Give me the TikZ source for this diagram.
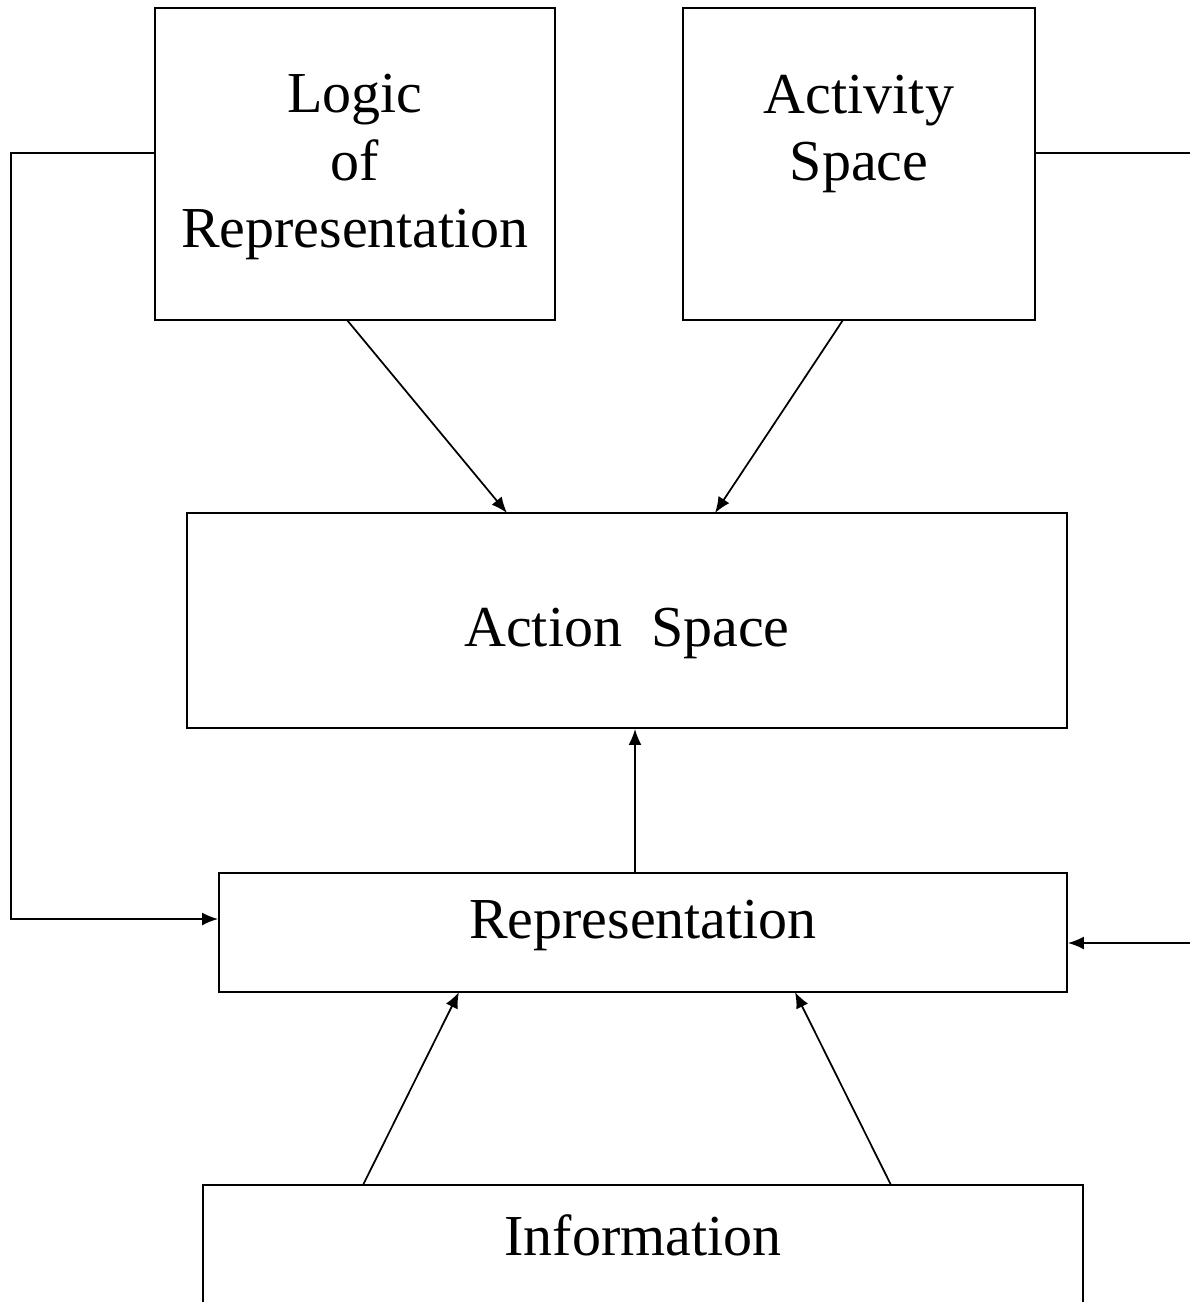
\documentclass[tikz,border=0pt]{standalone}
\usepackage{fontspec}
\setmainfont{Liberation Serif}
\usetikzlibrary{arrows.meta}
\begin{document}
\begin{tikzpicture}[x=0.02cm,y=-0.02cm,
  box/.style={draw,line width=0.04cm,inner sep=0pt},
  lbl/.style={font=\fontsize{33}{38.5}\selectfont,align=center,inner sep=0pt},
  conn/.style={line width=0.035cm,-{Latex[length=0.32cm,width=0.26cm]}},
  plain/.style={line width=0.035cm}]
\useasboundingbox (0,0) rectangle (1190,1302);
\clip (0,0) rectangle (1190,1302);
% boxes
\node[box,minimum width=8cm,minimum height=6.24cm] (logic) at (355,164) {};
\node[lbl] (logict) at (355,167) {Logic\\of\\Representation};
\node[box,minimum width=7.04cm,minimum height=6.24cm] (activity) at (859,164) {};
\node[lbl] (activityt) at (859,134) {Activity\\Space};
\node[box,minimum width=17.6cm,minimum height=4.3cm] (action) at (627,620.5) {};
\node[lbl] (actiont) at (627,633) {Action\hspace{0.25em} Space};
\node[box,minimum width=16.96cm,minimum height=2.38cm] (rep) at (643,932.5) {};
\node[lbl] (rept) at (643,925) {Representation};
\node[lbl] (info) at (643,1235) {Information};
\coordinate (iTL) at (203,1185);
\coordinate (iTR) at (1083,1185);
\coordinate (iBL) at (203,1310);
\coordinate (iBR) at (1083,1310);
\draw[line width=0.04cm] (iBL) -- (iTL) -- (iTR) -- (iBR);
% connectors
\coordinate (a1) at (347,320);
\coordinate (a2) at (507,513);
\draw[conn] (a1) -- (a2);
\coordinate (b1) at (843,320);
\coordinate (b2) at (715,513);
\draw[conn] (b1) -- (b2);
\draw[conn] (rep.north -| 635,0) -- (action.south -| 635,0);
\coordinate (l1) at (11,153);
\coordinate (l2) at (11,919);
\draw[conn] (logic.west |- 0,153) -- (l1) -- (l2) -- (rep.west |- l2);
\coordinate (r1) at (1192,153);
\draw[plain] (activity.east |- r1) -- (r1);
\coordinate (r2) at (1192,943);
\draw[conn] (r2) -- (rep.east |- r2);
\coordinate (c1) at (363,1185);
\coordinate (c2) at (459,992);
\draw[conn] (c1) -- (c2);
\coordinate (d1) at (891,1185);
\coordinate (d2) at (795,992);
\draw[conn] (d1) -- (d2);
\end{tikzpicture}
\end{document}
